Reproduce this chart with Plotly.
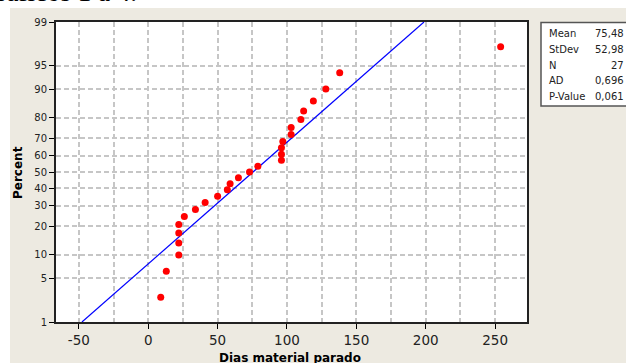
import plotly.graph_objects as go
from statistics import NormalDist

# ---- data ----
dias = [9, 13, 22, 22, 22, 22, 26, 34, 41, 50, 57, 59, 65, 73, 79,
        96, 96, 96, 97, 103, 103, 110, 112, 119, 128, 138, 254]
percent = [2.6, 6.2, 9.9, 13.5, 17.2, 20.8, 24.5, 28.1, 31.8, 35.4, 39.1,
           42.7, 46.4, 50.0, 53.6, 57.3, 60.9, 64.6, 68.2, 71.9, 75.5,
           79.2, 82.8, 86.5, 90.1, 93.8, 97.4]
y_ticks = [1, 5, 10, 20, 30, 40, 50, 60, 70, 80, 90, 95, 99]
x_ticks = [-50, 0, 50, 100, 150, 200, 250]
fit_percent = [1, 99]
stat_labels = ["Mean", "StDev", "N", "AD", "P-Value"]
stat_values = ["75,48", "52,98", "27", "0,696", "0,061"]
mean = 75.48
stdev = 52.98

# ---- probability scale (normal quantiles) ----
nd = NormalDist()
def probit(p):
    return nd.inv_cdf(p / 100.0)

W, H = 626, 363
L, R, T, B = 56, 527, 22, 322

def px_x(p):
    return (p - L) / (R - L)

def px_y(p):
    return (B - p) / (B - T)

BEIGE = "#EDEAE1"
GRID = "#C6C6C6"
FONT = "DejaVu Sans"

fig = go.Figure()

fig.add_trace(go.Scatter(
    x=[mean + stdev * probit(p) for p in fit_percent],
    y=[probit(p) for p in fit_percent],
    mode="lines", line=dict(color="#0000FF", width=1.2),
    hoverinfo="skip", showlegend=False))

fig.add_trace(go.Scatter(
    x=dias, y=[probit(p) for p in percent],
    mode="markers", marker=dict(color="#FF0000", size=7, line=dict(width=0)),
    showlegend=False))

shapes = [
    # white strips outside the graph region
    dict(type="rect", xref="paper", yref="paper", layer="below",
         x0=px_x(-5), x1=px_x(W + 5), y0=px_y(8), y1=px_y(-5),
         fillcolor="white", line=dict(width=0)),
    dict(type="rect", xref="paper", yref="paper", layer="below",
         x0=px_x(-5), x1=px_x(10), y0=px_y(H + 5), y1=px_y(-5),
         fillcolor="white", line=dict(width=0)),
    # stats box
    dict(type="rect", xref="paper", yref="paper", layer="above",
         x0=px_x(541), x1=px_x(660), y0=px_y(106), y1=px_y(22.5),
         fillcolor="white", line=dict(color="#555555", width=1.5)),
]

annotations = [
    dict(text="Gráficos 1 a 4.", xref="paper", yref="paper",
         x=px_x(138), y=px_y(8), xanchor="right", yanchor="bottom",
         showarrow=False, borderpad=0,
         font=dict(family="Liberation Serif", size=27, color="black")),
    dict(text="<b>Dias material parado</b>", xref="paper", yref="paper",
         x=px_x(290), y=px_y(357.5), xanchor="center", yanchor="middle",
         showarrow=False, font=dict(family=FONT, size=12, color="black")),
    dict(text="<b>Percent</b>", xref="paper", yref="paper",
         x=px_x(18), y=px_y(173), xanchor="center", yanchor="middle",
         textangle=-90, showarrow=False,
         font=dict(family=FONT, size=12, color="black")),
]
row_y = [33.3, 49.3, 65.0, 80.7, 96.7]
for lab, val, yy in zip(stat_labels, stat_values, row_y):
    annotations.append(dict(text=lab, xref="paper", yref="paper",
                            x=px_x(547), y=px_y(yy), xanchor="left",
                            yanchor="middle", showarrow=False,
                            font=dict(family=FONT, size=10, color="#222")))
    annotations.append(dict(text=val, xref="paper", yref="paper",
                            x=px_x(626), y=px_y(yy), xanchor="right",
                            yanchor="middle", showarrow=False,
                            font=dict(family=FONT, size=10, color="#222")))

fig.update_layout(
    width=W, height=H, autosize=False,
    margin=dict(l=L, r=W - R, t=T, b=H - B, pad=0),
    paper_bgcolor=BEIGE, plot_bgcolor="white",
    shapes=shapes, annotations=annotations,
    xaxis=dict(
        range=[-66.5, 273], tickvals=x_ticks,
        ticktext=[str(v) for v in x_ticks],
        ticks="outside", ticklen=5, tickwidth=1, tickcolor="black",
        showgrid=True, gridcolor=GRID, gridwidth=1.5, griddash="5px,3px",
        minor=dict(dtick=25, tick0=0, showgrid=True, gridcolor=GRID,
                   gridwidth=1.5, griddash="5px,3px", ticks=""),
        showline=True, linecolor="#222", linewidth=2, mirror=True,
        zeroline=False,
        tickfont=dict(family=FONT, size=13.5, color="#222")),
    yaxis=dict(
        range=[probit(1), probit(99)],
        tickvals=[probit(p) for p in y_ticks],
        ticktext=[str(p) for p in y_ticks],
        ticks="outside", ticklen=5, tickwidth=1, tickcolor="black",
        showgrid=True, gridcolor=GRID, gridwidth=1.5, griddash="5px,3px",
        showline=True, linecolor="#222", linewidth=2, mirror=True,
        zeroline=False,
        tickfont=dict(family=FONT, size=10, color="#222")),
)

fig.write_html(
    "out.html",
    config={"displayModeBar": False},
    post_script="document.body.style.margin='0';document.body.style.overflow='hidden';",
)
